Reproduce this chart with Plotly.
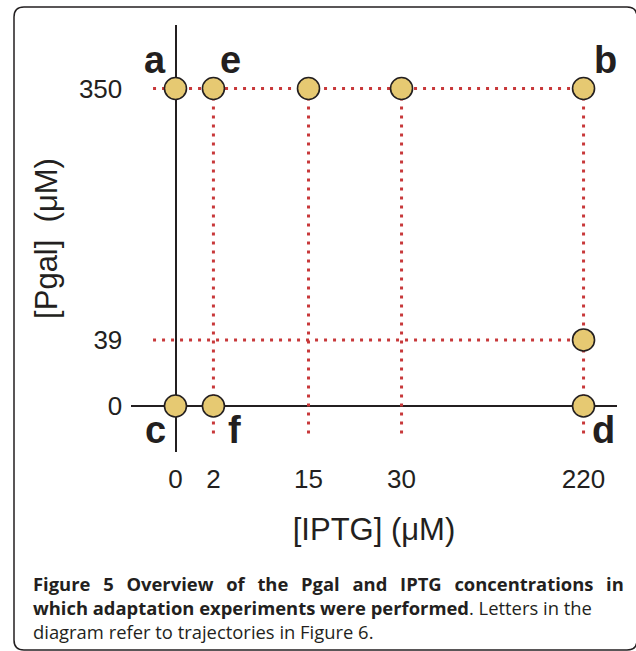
import numpy as np
import plotly.graph_objects as go

# ---------------- data ----------------
IPTG_TICKS = [0, 2, 15, 30, 220]          # µM, x tick values
PGAL_TICKS = [0, 39, 350]                 # µM, y tick values
IPTG_LABELS = ["0", "2", "15", "30", "220"]
PGAL_LABELS = ["0", "39", "350"]

EXP_IPTG = [0, 2, 15, 30, 220, 220, 0, 2, 220]
EXP_PGAL = [350, 350, 350, 350, 350, 39, 0, 0, 0]

TRAJ_LETTERS = ["a", "e", "b", "c", "f", "d"]
TRAJ_IPTG = [0, 2, 220, 0, 2, 220]
TRAJ_PGAL = [350, 350, 350, 0, 0, 0]

GUIDE_IPTG_LEVELS = [2, 15, 30, 220]      # vertical dotted guides
GUIDE_PGAL_LEVELS = [350, 39]             # horizontal dotted guides

X_TITLE = "[IPTG] (μM)"
Y_TITLE = "[Pgal]\u00a0 (μM)"
CAPTION_LINES = [
    "<b>Figure 5 Overview of the Pgal and IPTG concentrations in</b>",
    "<b>which adaptation experiments were performed</b>. Letters in the",
    "diagram refer to trajectories in Figure 6.",
]

# ---------------- schematic (non-linear) axis scale ----------------
IPTG_SCALE_POS = [0.0, 0.93, 3.26, 5.54, 10.0]
PGAL_SCALE_POS = [0.0, 2.08, 10.0]


def xs(v):
    return np.interp(v, IPTG_TICKS, IPTG_SCALE_POS)


def ys(v):
    return np.interp(v, PGAL_TICKS, PGAL_SCALE_POS)


# ---------------- style ----------------
W, H = 636, 651
INK = "#231f20"
DOT_RED = "#c8383a"
MARKER_FILL = "#e6c972"
AX_FONT = "Liberation Sans, Arial, sans-serif"
CAP_FONT = "Open Sans, sans-serif"
CAP_SIZE = 18.4
CAP_JUSTIFY = [True, False, False]        # first line is justified in the original
GUIDE_LEFT = -0.55       # where horizontal guides start (schematic units)
GUIDE_BOTTOM = -0.88     # where vertical guides end
LETTER_SHIFT = {"a": (-20, 28), "e": (17, 28), "b": (22, 28),
                "c": (-20, -24), "f": (21, -24), "d": (20, -24)}

fig = go.Figure()

# dotted guide lines
for lv in GUIDE_PGAL_LEVELS:
    fig.add_trace(go.Scatter(
        x=[GUIDE_LEFT, xs(max(EXP_IPTG))], y=[ys(lv), ys(lv)], mode="lines",
        line=dict(color=DOT_RED, width=3, dash="3px,6px"),
        hoverinfo="skip", showlegend=False, cliponaxis=False))
for lv in GUIDE_IPTG_LEVELS:
    fig.add_trace(go.Scatter(
        x=[xs(lv), xs(lv)], y=[ys(max(EXP_PGAL)), GUIDE_BOTTOM], mode="lines",
        line=dict(color=DOT_RED, width=3, dash="3px,6px"),
        hoverinfo="skip", showlegend=False, cliponaxis=False))

# experiment points
fig.add_trace(go.Scatter(
    x=xs(EXP_IPTG), y=ys(EXP_PGAL), mode="markers",
    marker=dict(size=22, color=MARKER_FILL, line=dict(color=INK, width=1.6)),
    showlegend=False, cliponaxis=False,
    hovertemplate="IPTG %{customdata[0]} µM<br>Pgal %{customdata[1]} µM<extra></extra>",
    customdata=np.column_stack([EXP_IPTG, EXP_PGAL])))

# trajectory letters
for L, xi, yp in zip(TRAJ_LETTERS, TRAJ_IPTG, TRAJ_PGAL):
    dx, dy = LETTER_SHIFT[L]
    fig.add_annotation(x=xs(xi), y=ys(yp), text=L, showarrow=False,
                       xshift=dx, yshift=dy,
                       font=dict(family=AX_FONT, size=38, color=INK, weight="bold"))

# caption
caption = "<br>".join(l.replace(" ", " \u2004\u200a") if j else l
                      for l, j in zip(CAPTION_LINES, CAP_JUSTIFY))
fig.add_annotation(xref="paper", yref="paper", x=31 / W, y=1 - 607.5 / H,
                   xanchor="left", yanchor="middle", align="left",
                   text=caption, showarrow=False,
                   font=dict(family=CAP_FONT, size=CAP_SIZE, color=INK))

# rounded border
fig.add_shape(type="path", xref="paper", yref="paper",
              xsizemode="pixel", ysizemode="pixel", xanchor=0, yanchor=1,
              path="M 24,-7 L 627,-7 Q 637,-7 637,-17 L 637,-640 Q 637,-650 627,-650 "
                   "L 24,-650 Q 14,-650 14,-640 L 14,-17 Q 14,-7 24,-7 Z",
              line=dict(color=INK, width=1.5), fillcolor="rgba(0,0,0,0)")

fig.update_layout(
    width=W, height=H, autosize=False,
    margin=dict(l=0, r=0, t=0, b=0, pad=0),
    paper_bgcolor="white", plot_bgcolor="white",
    xaxis=dict(domain=[131 / W, 617 / W], range=[-1.09, 10.82],
               anchor="free", position=1 - 406 / H,
               showline=True, linecolor=INK, linewidth=2, layer="below traces",
               showgrid=False, zeroline=False, ticks="",
               tickmode="array", tickvals=list(xs(IPTG_TICKS)), ticktext=IPTG_LABELS,
               tickfont=dict(family=AX_FONT, size=26, color=INK),
               ticklabelstandoff=50,
               title=dict(text=X_TITLE, standoff=24,
                          font=dict(family=AX_FONT, size=31, color=INK)),
               fixedrange=True),
    yaxis=dict(domain=[1 - 452 / H, 1 - 25 / H], range=[-1.45, 12.0],
               anchor="free", position=175.5 / W,
               showline=True, linecolor=INK, linewidth=2, layer="below traces",
               showgrid=False, zeroline=False, ticks="",
               tickmode="array", tickvals=list(ys(PGAL_TICKS)), ticktext=PGAL_LABELS,
               tickfont=dict(family=AX_FONT, size=26, color=INK),
               ticklabelstandoff=47,
               title=dict(text=Y_TITLE, standoff=11,
                          font=dict(family=AX_FONT, size=31, color=INK)),
               fixedrange=True),
)

fig.write_html("out.html")
